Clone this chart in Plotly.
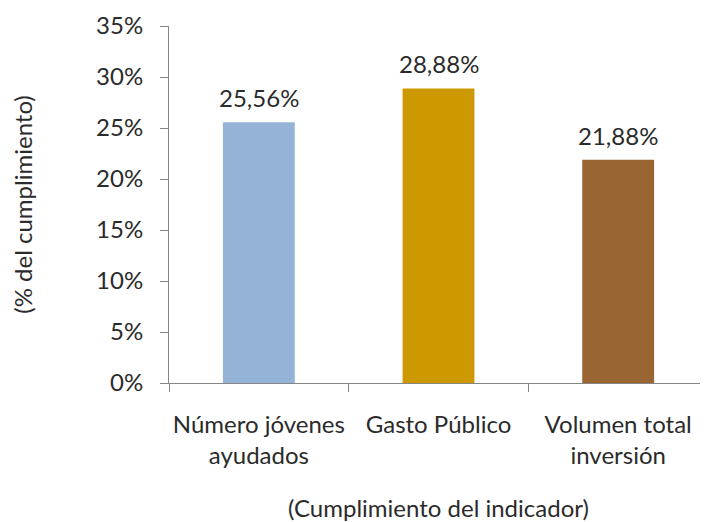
import plotly.graph_objects as go

categories = ["Número jóvenes<br>ayudados", "Gasto Público", "Volumen total<br>inversión"]
values = [0.2556, 0.2888, 0.2188]
value_labels = ["25,56%", "28,88%", "21,88%"]
colors = ["#95B3D7", "#CC9900", "#996633"]

FONT = "Lato, Open Sans, sans-serif"
AXIS_GREY = "#868686"
TEXT = "#2b2b2b"
FS = 24

fig = go.Figure()
fig.add_trace(
    go.Bar(
        x=categories,
        y=values,
        marker=dict(color=colors, line=dict(width=0)),
        width=0.4,
        hoverinfo="x+y",
    )
)

# value labels sit a little above each bar
for cat, val, lab in zip(categories, values, value_labels):
    fig.add_annotation(
        x=cat, y=val, text=lab, showarrow=False,
        yanchor="bottom", yshift=8,
        font=dict(size=FS, color=TEXT),
    )

# page body has an 8px margin, so the figure is sized/offset to compensate
fig.update_layout(
    width=700,
    height=514,
    margin=dict(l=161, r=0, t=18, b=139),
    paper_bgcolor="white",
    plot_bgcolor="white",
    separators=",.",
    font=dict(family=FONT, size=FS, color=TEXT),
    showlegend=False,
)
fig.update_xaxes(
    type="category",
    automargin=False,
    showline=True,
    linecolor=AXIS_GREY,
    linewidth=1,
    ticks="outside",
    tickson="boundaries",
    ticklen=8,
    tickcolor=AXIS_GREY,
    tickangle=0,
    showgrid=False,
    tickfont=dict(size=FS),
    ticklabelstandoff=20,
    title=dict(text="(Cumplimiento del indicador)", font=dict(size=FS), standoff=40),
)
fig.update_yaxes(
    range=[0, 0.35],
    dtick=0.05,
    tickformat=".0%",
    automargin=False,
    showline=True,
    linecolor=AXIS_GREY,
    linewidth=1,
    ticks="outside",
    ticklen=8,
    tickcolor=AXIS_GREY,
    showgrid=False,
    zeroline=False,
    tickfont=dict(size=FS),
    ticklabelstandoff=12,
    title=dict(text="(% del cumplimiento)", font=dict(size=FS), standoff=68),
)

fig.write_html("out.html")
